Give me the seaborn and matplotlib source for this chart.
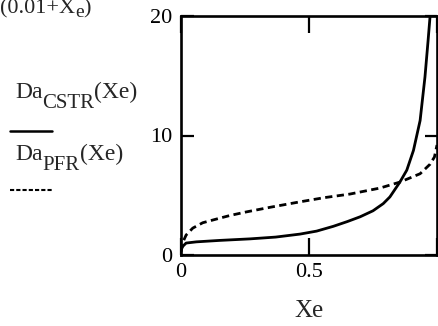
import matplotlib
matplotlib.use("Agg")
import matplotlib.pyplot as plt
import seaborn as sns
import pandas as pd

# values
xe_cstr = [0.0, 0.003, 0.008, 0.02, 0.06, 0.15, 0.27, 0.37, 0.465, 0.53, 0.595, 0.65, 0.7,
           0.75, 0.79, 0.816, 0.855, 0.882, 0.908, 0.934, 0.953, 0.965, 0.973]
da_cstr = [0.3, 0.55, 0.75, 1.0, 1.1, 1.22, 1.35, 1.5, 1.75, 2.0, 2.4, 2.8, 3.2,
           3.7, 4.3, 4.86, 6.1, 7.1, 8.75, 11.25, 14.9, 17.9, 20.0]

xe_pfr = [0.0, 0.003, 0.01, 0.02, 0.046, 0.085, 0.137, 0.19, 0.254, 0.35, 0.465, 0.56,
          0.66, 0.777, 0.855, 0.934, 0.973, 0.99, 1.0]
da_pfr = [0.3, 0.8, 1.2, 1.67, 2.25, 2.7, 3.0, 3.3, 3.6, 4.0, 4.45, 4.8,
          5.1, 5.6, 6.1, 6.8, 7.6, 8.2, 9.2]

x_ticks = [0, 0.5, 1]
x_labels = ["0", "0.5", ""]
y_ticks = [0, 10, 20]

sns.set_style("ticks")
plt.rcParams["font.family"] = ["Liberation Serif", "DejaVu Serif"]

cstr = pd.DataFrame({"Xe": xe_cstr, "Da": da_cstr})
pfr = pd.DataFrame({"Xe": xe_pfr, "Da": da_pfr})

W, H = 439, 326
fig = plt.figure(figsize=(W / 100, H / 100), dpi=100)
ax = fig.add_axes([181 / W, 1 - 255 / H, 256 / W, 239 / H])

sns.lineplot(data=cstr, x="Xe", y="Da", ax=ax, color="black", linewidth=2.0, sort=False)
sns.lineplot(data=pfr, x="Xe", y="Da", ax=ax, color="black", linewidth=2.0,
             linestyle=(0, (2.6, 1.6)), sort=False)

ax.set_xlim(0, 1)
ax.set_ylim(0, 20)
ax.set_xticks(x_ticks)
ax.set_xticklabels(x_labels)
ax.set_yticks(y_ticks)
ax.set_ylabel("")
ax.set_xlabel("Xe", fontsize=18, labelpad=13)

for s in ax.spines.values():
    s.set_linewidth(1.9)
    s.set_color("black")
ax.tick_params(axis="both", direction="in", top=True, right=True, width=1.6,
               labelsize=16, colors="black")
ax.tick_params(axis="x", length=12, pad=6)
ax.tick_params(axis="y", length=9, pad=6)

renderer = fig.canvas.get_renderer()


def sub_label(x_px, base_px, main, sub, tail, size=17, sub_size=15, drop=10):
    # Mathcad style: big subscript, dropped well below the baseline
    x = x_px
    for txt, fs, dy in ((main, size, 0), (sub, sub_size, drop), (tail, size, 0)):
        t = fig.text(x / W, 1 - (base_px + dy) / H, txt, fontsize=fs, va="baseline")
        x += t.get_window_extent(renderer).width


# legend block on the left, as in the original worksheet
sub_label(15, 98, "Da", "CSTR", "(Xe)")
fig.add_artist(plt.Line2D([10 / W, 52 / W], [1 - 131 / H] * 2, color="black", lw=1.8))
sub_label(15, 160, "Da", "PFR", "(Xe)")
fig.add_artist(plt.Line2D([10 / W, 52 / W], [1 - 190 / H] * 2, color="black", lw=1.5,
                          linestyle=(0, (2.0, 1.0))))

# fragment of the formula above the plot
sub_label(0, 13, "(0.01+X", "e", ")", size=16, sub_size=14, drop=4)

fig.savefig("out.png", dpi=100)
